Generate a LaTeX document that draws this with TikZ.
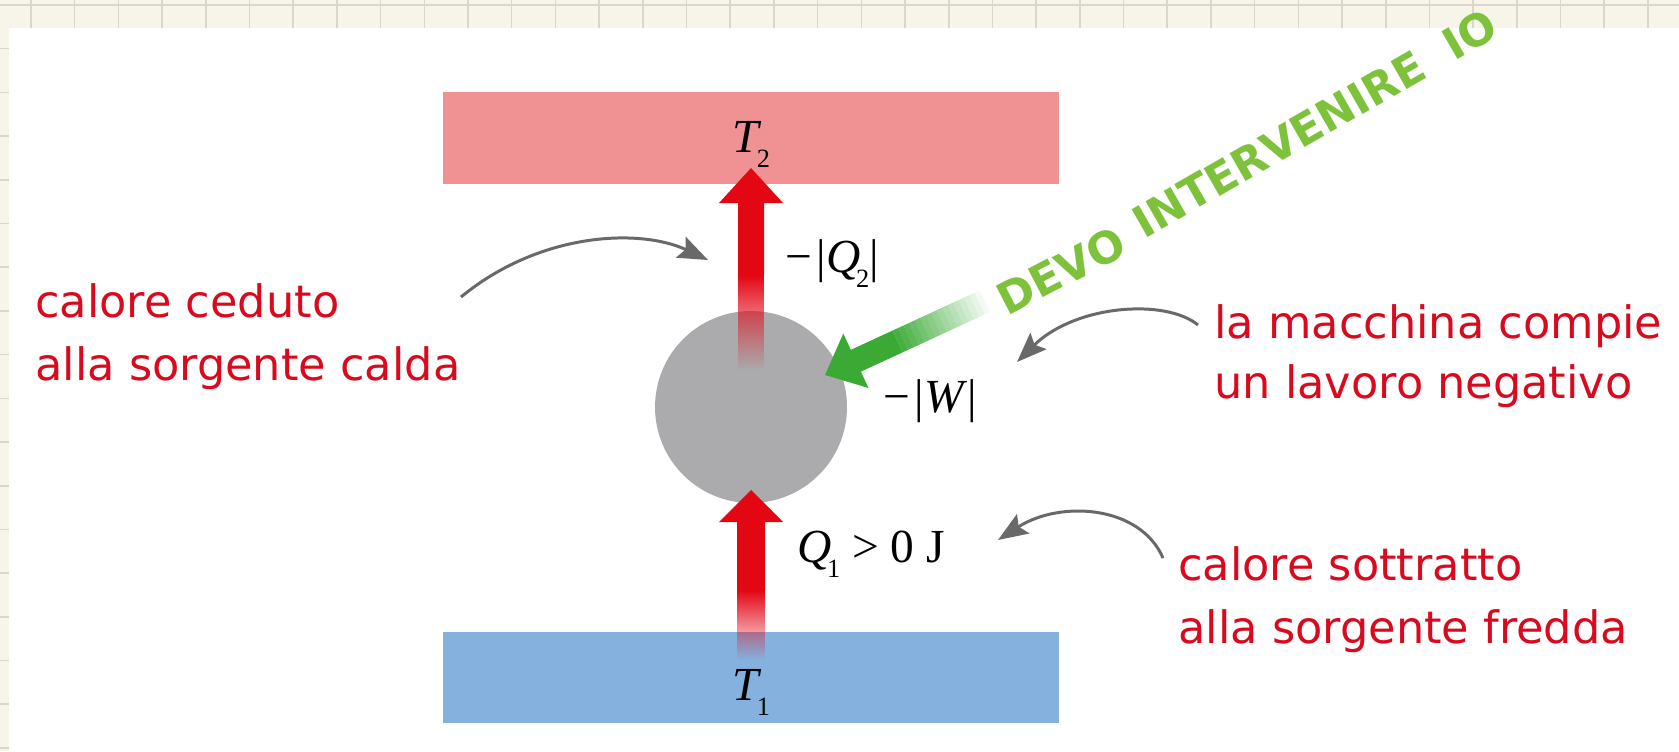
\documentclass[tikz,border=0pt]{standalone}
\usepackage{fontspec}
\usetikzlibrary{arrows.meta,fadings}
\newfontfamily\notefont{DejaVu Sans}
\newfontfamily\symfont{Liberation Serif}
\definecolor{paper}{RGB}{247,245,233}
\definecolor{gridline}{RGB}{218,214,200}
\definecolor{hotres}{RGB}{240,145,147}
\definecolor{coldres}{RGB}{133,177,222}
\definecolor{enginegray}{RGB}{171,171,173}
\definecolor{heatred}{RGB}{227,6,19}
\definecolor{workgreen}{RGB}{58,170,53}
\definecolor{notered}{RGB}{218,10,30}
\definecolor{marker}{RGB}{125,194,58}
\definecolor{pointergray}{RGB}{105,105,105}
\newcommand{\subsym}[2]{\textit{#1}\kern-2.5pt\raisebox{-9pt}{\fontsize{15}{15}\selectfont #2}}

\begin{document}
\begin{tikzpicture}[x=0.02cm,y=-0.02cm,
  note/.style={font=\notefont\fontsize{25.4}{35.7}\selectfont,text=notered,align=left,inner sep=0pt},
  sym/.style={font=\symfont\fontsize{27}{30}\selectfont,inner sep=0pt},
  scribble/.style={font=\notefont\bfseries\fontsize{25}{25}\selectfont,text=marker,inner sep=0pt},
  pointer/.style={pointergray,line width=1.7pt,-{Stealth[length=17pt,width=13pt,inset=3pt]}},
  reservoir/.style={minimum width=12.32cm,minimum height=1.84cm,inner sep=0pt}]
  \useasboundingbox (0,0) rectangle (1679,751);
  % squared paper round the picture
  \fill[paper] (0,0) rectangle (1679,751);
  \foreach \gx in {0,...,37} \draw[gridline,line width=0.9pt] ({31+43.7*\gx},0) -- ({31+43.7*\gx},28);
  \foreach \gy in {0,...,17} \draw[gridline,line width=0.9pt] (0,{5+43.7*\gy}) -- (9,{5+43.7*\gy});
  \draw[gridline,line width=0.9pt] (0,5) -- (1679,5);
  \fill[white] (9,28) rectangle (1679,751);
  % sources and machine
  \node[reservoir,fill=hotres] (hot) at (751,138) {};
  \node[reservoir,fill=coldres,minimum height=1.82cm] (cold) at (751,677.5) {};
  \node[circle,fill=enginegray,minimum size=3.84cm,inner sep=0pt] (engine) at (751,407) {};
  % heat given to the hot source
  \coordinate (q2tip) at (751,168);
  \fill[heatred] (q2tip) -- ++(32,35) -- ++(-19,0) -- ++(0,72) -- ++(-26,0) -- ++(0,-72) -- ++(-19,0) -- cycle;
  \fill[heatred,path fading=south] (738,275) rectangle (764,370);
  % heat taken from the cold source
  \coordinate (q1tip) at (751,490);
  \fill[heatred] (q1tip) -- ++(32,32) -- ++(-18,0) -- ++(0,68) -- ++(-28,0) -- ++(0,-68) -- ++(-18,0) -- cycle;
  \fill[heatred,path fading=south] (737,590) rectangle (765,660);
  % work done on the machine
  \begin{scope}[shift={(825,375)},rotate=24.8]
    \fill[workgreen] (0,0) -- (34,-30) -- (34,-12) -- (80,-12) -- (80,12) -- (34,12) -- (34,30) -- cycle;
    \foreach \k in {0,...,15} \fill[workgreen,opacity={1-(\k+1)/17}] ({80+6*\k},-12) rectangle ({86+6*\k},12);
  \end{scope}
  % symbols
  \node[sym,anchor=base] (t2) at (751,152) {\subsym{T}{2}};
  \node[sym,anchor=base] (t1) at (751,700) {\subsym{T}{1}};
  \node[sym,anchor=base west] (q2) at (785,272) {−\hspace{0.1em}|\subsym{Q}{2}|};
  \node[sym,anchor=base west] (w) at (883,412) {−\hspace{0.1em}|\textit{W}|};
  \node[sym,anchor=base west] (q1) at (797,562) {\subsym{Q}{1} > 0 J};
  % notes (base is the last line)
  \node[note,anchor=base west] (cedutonote) at (35,380) {calore ceduto\\alla sorgente calda};
  \node[note,anchor=base west,font=\notefont\fontsize{25.4}{34}\selectfont] (lavoronote) at (1214,398) {la macchina compie\\un lavoro negativo};
  \node[note,anchor=base west] (sottrattonote) at (1178,643) {calore sottratto\\alla sorgente fredda};
  \coordinate (cedutofrom) at (461,297);
  \coordinate (cedutoto) at (708,260);
  \draw[pointer] (cedutofrom) .. controls (540,232) and (640,228) .. (cedutoto);
  \coordinate (lavorofrom) at (1198,325);
  \coordinate (lavoroto) at (1017,362);
  \draw[pointer] (lavorofrom) .. controls (1165,298) and (1075,305) .. (lavoroto);
  \coordinate (sottrattofrom) at (1163,558);
  \coordinate (sottrattoto) at (998,540);
  \draw[pointer] (sottrattofrom) .. controls (1140,505) and (1060,500) .. (sottrattoto);
  % handwritten remark
  \node[scribble,rotate=27.5] (devo) at (1061,271) {DEVO};
  \node[scribble,rotate=29.8] (intervenire) at (1279,144) {INTERVENIRE};
  \node[scribble,rotate=30] (io) at (1470,34) {IO};
\end{tikzpicture}
\end{document}
